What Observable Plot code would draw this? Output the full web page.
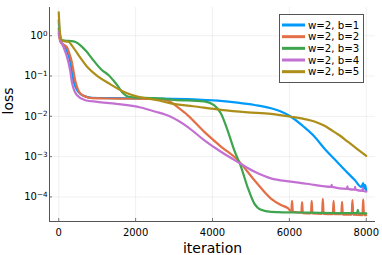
<!DOCTYPE html>
<html><head><meta charset="utf-8">
<script src="https://cdn.jsdelivr.net/npm/d3@7"></script>
<script src="https://cdn.jsdelivr.net/npm/@observablehq/plot@0.6"></script>
<style>body{margin:0;background:#fff}</style>
</head><body><div id="chart"></div>
<script>
const seriesLabels = ["w=2, b=1", "w=2, b=2", "w=2, b=3", "w=2, b=4", "w=2, b=5"];
const seriesColors = ["#009AFA", "#E36F47", "#3EA44E", "#C271D2", "#AC8E18"];

// values are log10(loss)
const iterB1 = [0,30,60,120,180,240,300,340,385,450,515,645,860,1500,2500,3500,4650,5100,5520,5780,6043,6350,6650,6920,7170,7520,7700,7870,7920,7940,7970,8000];
const logLossB1 = [0.39,-0.05,-0.17,-0.22,-0.29,-0.45,-0.65,-0.88,-1.12,-1.30,-1.40,-1.49,-1.54,-1.55,-1.56,-1.58,-1.66,-1.72,-1.80,-1.88,-2.01,-2.24,-2.50,-2.81,-3.06,-3.41,-3.58,-3.75,-3.66,-3.80,-3.70,-3.85];

const iterB2 = [0,30,60,120,210,280,340,385,430,500,560,690,860,1500,2500,2700,2900,3100,3350,3780,4220,4650,5085,5520,5780,5960,6050,6070,6090,6310,6330,6350,6560,6580,6600,6850,6870,6890,7130,7150,7170,7350,7370,7390,7620,7640,7660,7900,7920,7940,8000];
const logLossB2 = [0.05,-0.10,-0.18,-0.22,-0.28,-0.45,-0.65,-0.88,-1.12,-1.33,-1.43,-1.51,-1.55,-1.56,-1.57,-1.58,-1.64,-1.78,-1.97,-2.38,-2.75,-3.08,-3.58,-4.04,-4.20,-4.28,-4.36,-4.10,-4.37,-4.39,-4.13,-4.40,-4.41,-4.10,-4.41,-4.42,-4.05,-4.42,-4.43,-4.10,-4.43,-4.43,-4.12,-4.44,-4.44,-4.08,-4.44,-4.45,-4.06,-4.45,-4.45];

const iterB3 = [0,30,70,150,385,500,600,730,860,1120,1300,1500,1690,1780,1950,2500,3000,3780,4040,4220,4390,4565,4740,4910,5085,5260,5520,6500,7500,7760,7780,7800,8000];
const logLossB3 = [0.18,0.00,-0.11,-0.12,-0.14,-0.19,-0.27,-0.40,-0.56,-0.85,-0.98,-1.20,-1.44,-1.50,-1.53,-1.55,-1.59,-1.63,-1.72,-1.93,-2.34,-2.84,-3.25,-3.75,-4.16,-4.32,-4.37,-4.39,-4.40,-4.40,-4.32,-4.40,-4.41];

const iterB4 = [0,30,60,120,250,300,340,400,470,690,1000,1500,2130,2500,2913,3350,3780,4220,4650,5085,5520,6043,6500,7090,7100,7110,7500,7510,7520,7700,7710,7720,7900,7910,7920,8000];
const logLossB4 = [0.10,-0.07,-0.15,-0.27,-0.65,-0.88,-1.14,-1.35,-1.47,-1.60,-1.64,-1.69,-1.78,-1.88,-2.01,-2.26,-2.59,-2.88,-3.13,-3.37,-3.54,-3.62,-3.68,-3.75,-3.70,-3.75,-3.80,-3.74,-3.80,-3.82,-3.75,-3.82,-3.85,-3.78,-3.85,-3.87];

const iterB5 = [0,30,60,100,250,390,515,775,1035,1300,1780,2130,2570,2913,3500,4220,4913,5520,6043,6400,6650,6900,7090,7300,7520,7750,8000];
const logLossB5 = [0.58,0.10,-0.07,-0.13,-0.15,-0.31,-0.48,-0.81,-1.02,-1.18,-1.43,-1.53,-1.60,-1.68,-1.75,-1.84,-1.90,-1.94,-2.01,-2.07,-2.13,-2.23,-2.34,-2.47,-2.63,-2.80,-2.98];

const xTicks = [0, 2000, 4000, 6000, 8000];
const yTicks = [1, 1e-1, 1e-2, 1e-3, 1e-4];
const yTickExponents = ["0", "−1", "−2", "−3", "−4"];
const xLabel = "iteration";
const yLabel = "loss";
const xDomain = [-240, 8240];
const yDomain = [Math.pow(10, -4.61), Math.pow(10, 0.70)];

const series = [[iterB1, logLossB1], [iterB2, logLossB2], [iterB3, logLossB3], [iterB4, logLossB4], [iterB5, logLossB5]];
const rows = series.flatMap(([it, lg], k) => it.map((x, i) => ({iteration: x, loss: Math.pow(10, lg[i]), series: seriesLabels[k]})));
const expMap = new Map(yTicks.map((t, i) => [t, yTickExponents[i]]));

const chart = Plot.plot({
  width: 382, height: 255,
  marginLeft: 49, marginRight: 7, marginTop: 7, marginBottom: 34,
  x: {domain: xDomain},
  y: {type: "log", domain: yDomain},
  color: {domain: seriesLabels, range: seriesColors},
  style: {fontFamily: "DejaVu Sans", fontSize: "10px", background: "white", color: "#000"},
  marks: [
    Plot.gridX(xTicks, {stroke: "#000", strokeOpacity: 0.1, strokeWidth: 0.6}),
    Plot.gridY(yTicks, {stroke: "#000", strokeOpacity: 0.1, strokeWidth: 0.6}),
    Plot.ruleX(xTicks, {x: d => d, y1: yDomain[0], y2: yDomain[0], insetTop: -3, stroke: "#555", strokeWidth: 0.8}),
    Plot.ruleY(yTicks, {y: d => d, x1: xDomain[0], x2: xDomain[0], insetRight: -3, stroke: "#555", strokeWidth: 0.8}),
    Plot.ruleX([xDomain[0]], {stroke: "#555", strokeWidth: 1}),
    Plot.ruleY([yDomain[0]], {stroke: "#555", strokeWidth: 1}),
    Plot.axisX(xTicks, {tickSize: 0, tickPadding: 7, label: null, fontSize: 10, tickFormat: d => String(d)}),
    Plot.axisY(yTicks, {tickSize: 0, tickPadding: 2, label: null, fontSize: 10, tickFormat: d => expMap.get(d)}),
    Plot.line(rows, {x: "iteration", y: "loss", z: "series", stroke: "series", strokeWidth: 2.2, curve: "monotone-x"}),
    Plot.text([xLabel], {text: d => d, frameAnchor: "bottom", dy: 31, lineAnchor: "bottom", fontSize: 14}),
    Plot.text([yLabel], {text: d => d, frameAnchor: "left", dx: -41, rotate: -90, fontSize: 14})
  ]
});

d3.select(chart).selectAll('g[aria-label="y-axis tick label"] text').each(function() {
  const t = d3.select(this);
  const s = t.text();
  t.text("10");
  t.append("tspan").attr("dy", "-0.45em").attr("font-size", "0.72em").text(s);
});

const lg = d3.select(chart).append("g").attr("font-family", "DejaVu Sans").attr("font-size", 10.2).attr("text-anchor", "start");
lg.append("rect").attr("x", 279.5).attr("y", 14.5).attr("width", 84).attr("height", 68).attr("fill", "white").attr("stroke", "#555");
seriesLabels.forEach((s, i) => {
  const y = 25 + i * 11.67;
  lg.append("line").attr("x1", 282).attr("x2", 305).attr("y1", y).attr("y2", y).attr("stroke", seriesColors[i]).attr("stroke-width", 3);
  lg.append("text").attr("x", 308).attr("y", y).attr("dy", "0.36em").attr("text-anchor", "start").attr("fill", "#000").text(s);
});

document.getElementById("chart").appendChild(chart);
</script>
</body></html>
